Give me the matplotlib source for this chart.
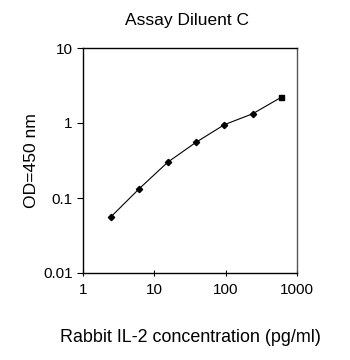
import matplotlib

matplotlib.use("Agg")
import matplotlib.pyplot as plt

plt.rcParams["font.family"] = ["Liberation Sans", "DejaVu Sans"]

# standard curve
conc = [2.46, 6.14, 15.4, 38.4, 96, 240, 600]
od = [0.056, 0.133, 0.30, 0.553, 0.95, 1.33, 2.2]

fig = plt.figure(figsize=(3.5, 3.6), dpi=100)
ax = fig.add_axes([83 / 350, 1 - 273 / 360, 214 / 350, 225 / 360])

ax.plot(conc, od, "-", color="black", lw=0.8)
ax.plot(conc[:-1], od[:-1], "D", color="black", ms=3.2)
ax.plot(conc[-1:], od[-1:], "s", color="black", ms=3.6)

ax.set_xscale("log")
ax.set_yscale("log")
ax.set_xlim(1, 1000)
ax.set_ylim(0.01, 10)
ax.set_xticks([1, 10, 100, 1000])
ax.set_xticklabels(["1", "10", "100", "1000"])
ax.set_yticks([0.01, 0.1, 1, 10])
ax.set_yticklabels(["0.01", "0.1", "1", "10"])
ax.minorticks_off()
ax.tick_params(axis="y", labelsize=11, length=4, width=0.8, direction="out")
ax.tick_params(axis="x", labelsize=11, length=4, width=0.8, direction="inout",
               pad=5)
for s in ax.spines.values():
    s.set_linewidth(1.0)
ax.spines["right"].set_color("#555555")

ax.set_xlabel("Rabbit IL-2 concentration (pg/ml)", fontsize=12.9, labelpad=23)
ax.set_ylabel("OD=450 nm", fontsize=12.6, labelpad=3)
fig.text(187 / 350, 1 - 20 / 360, "Assay Diluent C", fontsize=12.5,
         ha="center", va="center")

fig.savefig("out.png", dpi=100)
